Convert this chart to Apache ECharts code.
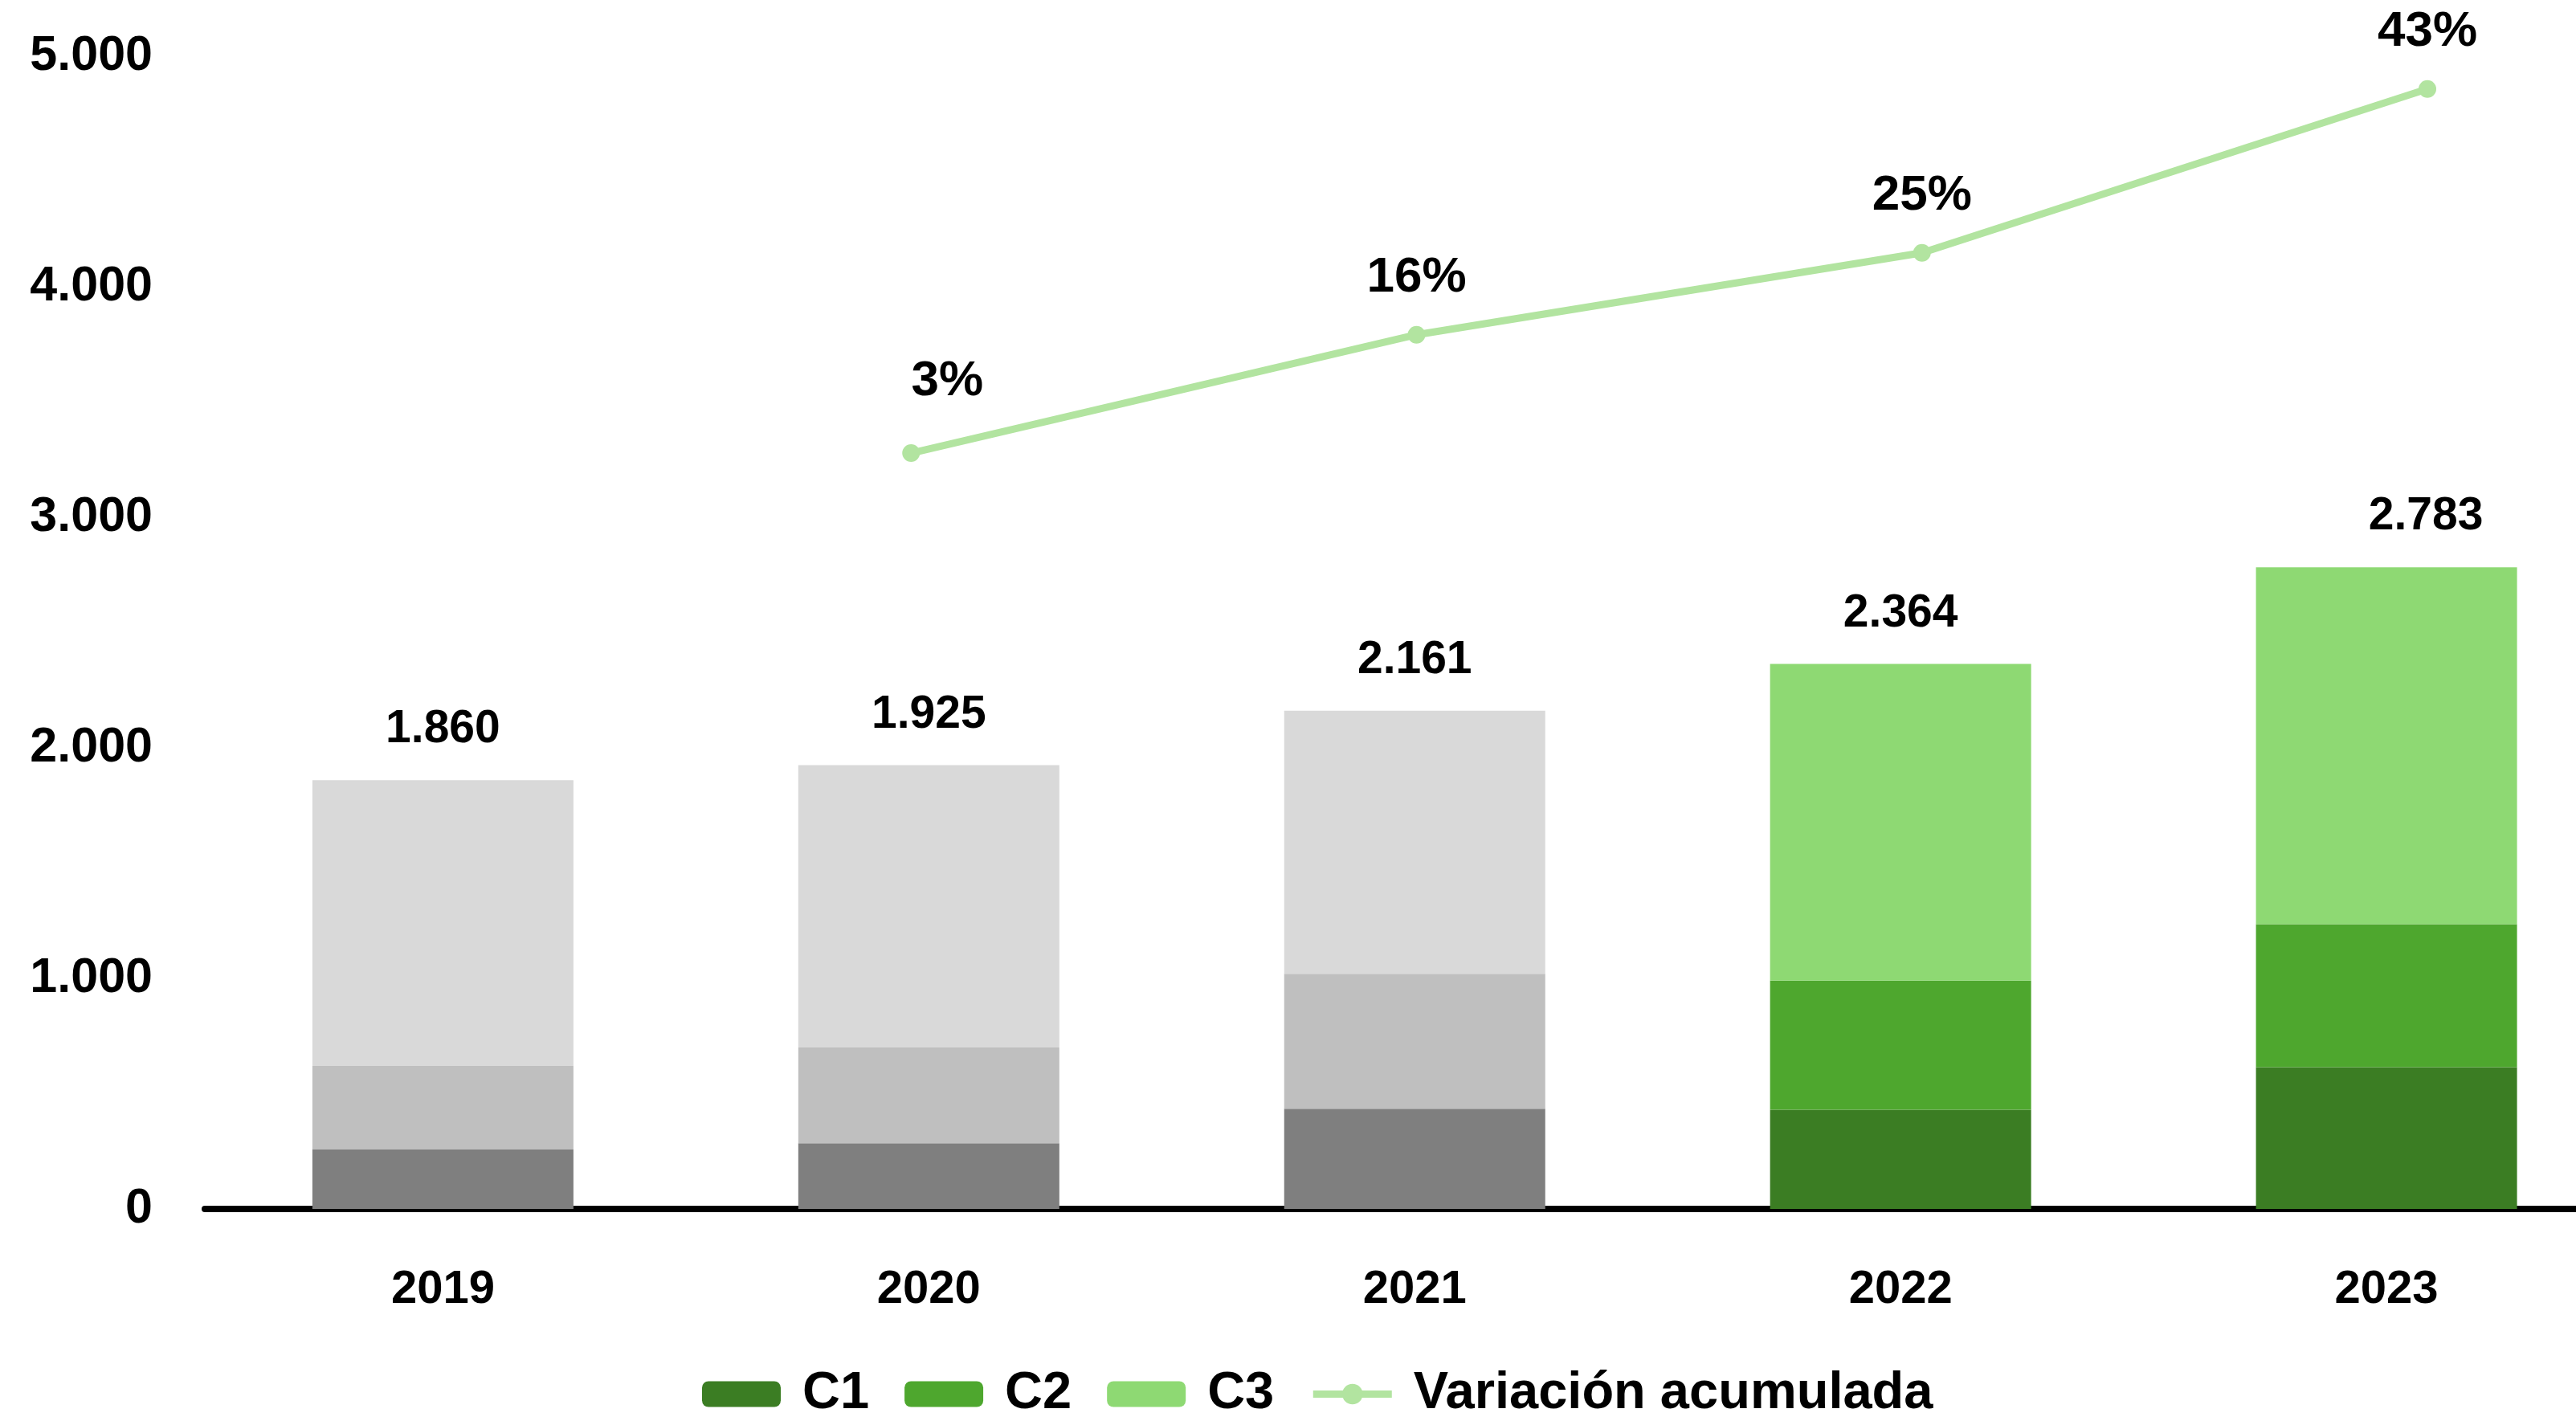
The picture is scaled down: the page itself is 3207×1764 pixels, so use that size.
<!DOCTYPE html>
<html>
<head>
<meta charset="utf-8">
<script src="https://cdn.jsdelivr.net/npm/echarts@6/dist/echarts.min.js"></script>
<style>
html,body{margin:0;padding:0;background:#fff;}
#chart{width:3207px;height:1764px;}
</style>
</head>
<body>
<div id="chart"></div>
<script>
// ---- data ----
var years = ['2019', '2020', '2021', '2022', '2023'];
var c1 = [260, 285, 435, 430, 615];
var c2 = [360, 415, 585, 560, 620];
var c3 = [1240, 1225, 1141, 1374, 1548];
var totals = [1860, 1925, 2161, 2364, 2783];
var variacion = [null, 3, 16, 25, 43];
var yTicks = [0, 1000, 2000, 3000, 4000, 5000];

// ---- styles ----
var greens = ['#3b7d23', '#4ea72e', '#8ed973'];
var greys = ['#7f7f7f', '#bfbfbf', '#d9d9d9'];
var lineColor = '#b2e4a0';
var firstGreen = 3;
var fontBold = "'Liberation Sans', Arial, sans-serif";

function fmt(v) {
  return String(Math.round(v)).replace(/\B(?=(\d{3})+(?!\d))/g, '.');
}
var yearIdx = years.map(function (y, i) { return i; });
// value first (stacked dimension), year index second
function build(arr, k) {
  return arr.map(function (v, i) {
    return i < firstGreen ? { value: [v, i], itemStyle: { color: greys[k] } } : { value: [v, i] };
  });
}

var chart = echarts.init(document.getElementById('chart'));
var barCommon = {
  type: 'bar', stack: 'total', barWidth: 325, xAxisIndex: 0, yAxisIndex: 0,
  encode: { x: 1, y: 0 }
};
var c3Data = build(c3, 2);
c3Data[4].label = { offset: [49, 0] };
var lineData = variacion.map(function (v, i) {
  return i === 1 ? { value: v, label: { offset: [45, -18] } } : v;
});

chart.setOption({
  animation: false,
  backgroundColor: '#ffffff',
  grid: [
    { left: 255, right: 0, top: 70, bottom: 259 },
    { left: 505, right: 185, top: 31.5, bottom: 1166 }
  ],
  legend: {
    left: 869, top: 1698,
    itemWidth: 98, itemHeight: 32, itemGap: 44,
    lineStyle: { width: 9 },
    textStyle: { fontFamily: fontBold, fontWeight: 'bold', fontSize: 65, color: '#000', padding: [0, 0, 0, 22] },
    data: ['C1', 'C2', 'C3', 'Variación acumulada']
  },
  xAxis: [
    {
      type: 'value', gridIndex: 0, min: -0.49, max: 4.39,
      axisLine: { show: true, onZero: false, lineStyle: { color: '#000', width: 8 } },
      axisTick: { show: false },
      splitLine: { show: false },
      axisLabel: {
        customValues: yearIdx,
        fontFamily: fontBold, fontWeight: 'bold', fontSize: 58, color: '#000', margin: 72,
        formatter: function (v) { return years[Math.round(v)]; }
      }
    },
    {
      type: 'category', gridIndex: 1, data: years, boundaryGap: false, show: false
    }
  ],
  yAxis: [
    {
      type: 'value', gridIndex: 0, min: 0, max: 5000, interval: 1000,
      axisLine: { show: false }, axisTick: { show: false }, splitLine: { show: false },
      axisLabel: { fontFamily: fontBold, fontWeight: 'bold', fontSize: 61, color: '#000', margin: 65, formatter: fmt }
    },
    {
      type: 'value', gridIndex: 1, min: 0, max: 50, show: false, splitLine: { show: false }
    }
  ],
  series: [
    Object.assign({}, barCommon, { name: 'C1', data: build(c1, 0), itemStyle: { color: greens[0] } }),
    Object.assign({}, barCommon, { name: 'C2', data: build(c2, 1), itemStyle: { color: greens[1] } }),
    Object.assign({}, barCommon, {
      name: 'C3', data: c3Data, itemStyle: { color: greens[2] },
      label: {
        show: true, position: 'top', distance: 34,
        fontFamily: fontBold, fontWeight: 'bold', fontSize: 57, color: '#000',
        formatter: function (p) { return fmt(totals[p.dataIndex]); }
      }
    }),
    {
      name: 'Variación acumulada', type: 'line', xAxisIndex: 1, yAxisIndex: 1,
      data: lineData,
      lineStyle: { color: lineColor, width: 9 },
      itemStyle: { color: lineColor },
      symbol: 'circle', symbolSize: 22,
      label: {
        show: true, position: 'top', distance: 29,
        fontFamily: fontBold, fontWeight: 'bold', fontSize: 62, color: '#000',
        formatter: function (p) { return p.value + '%'; }
      }
    }
  ]
});
</script>
</body>
</html>
